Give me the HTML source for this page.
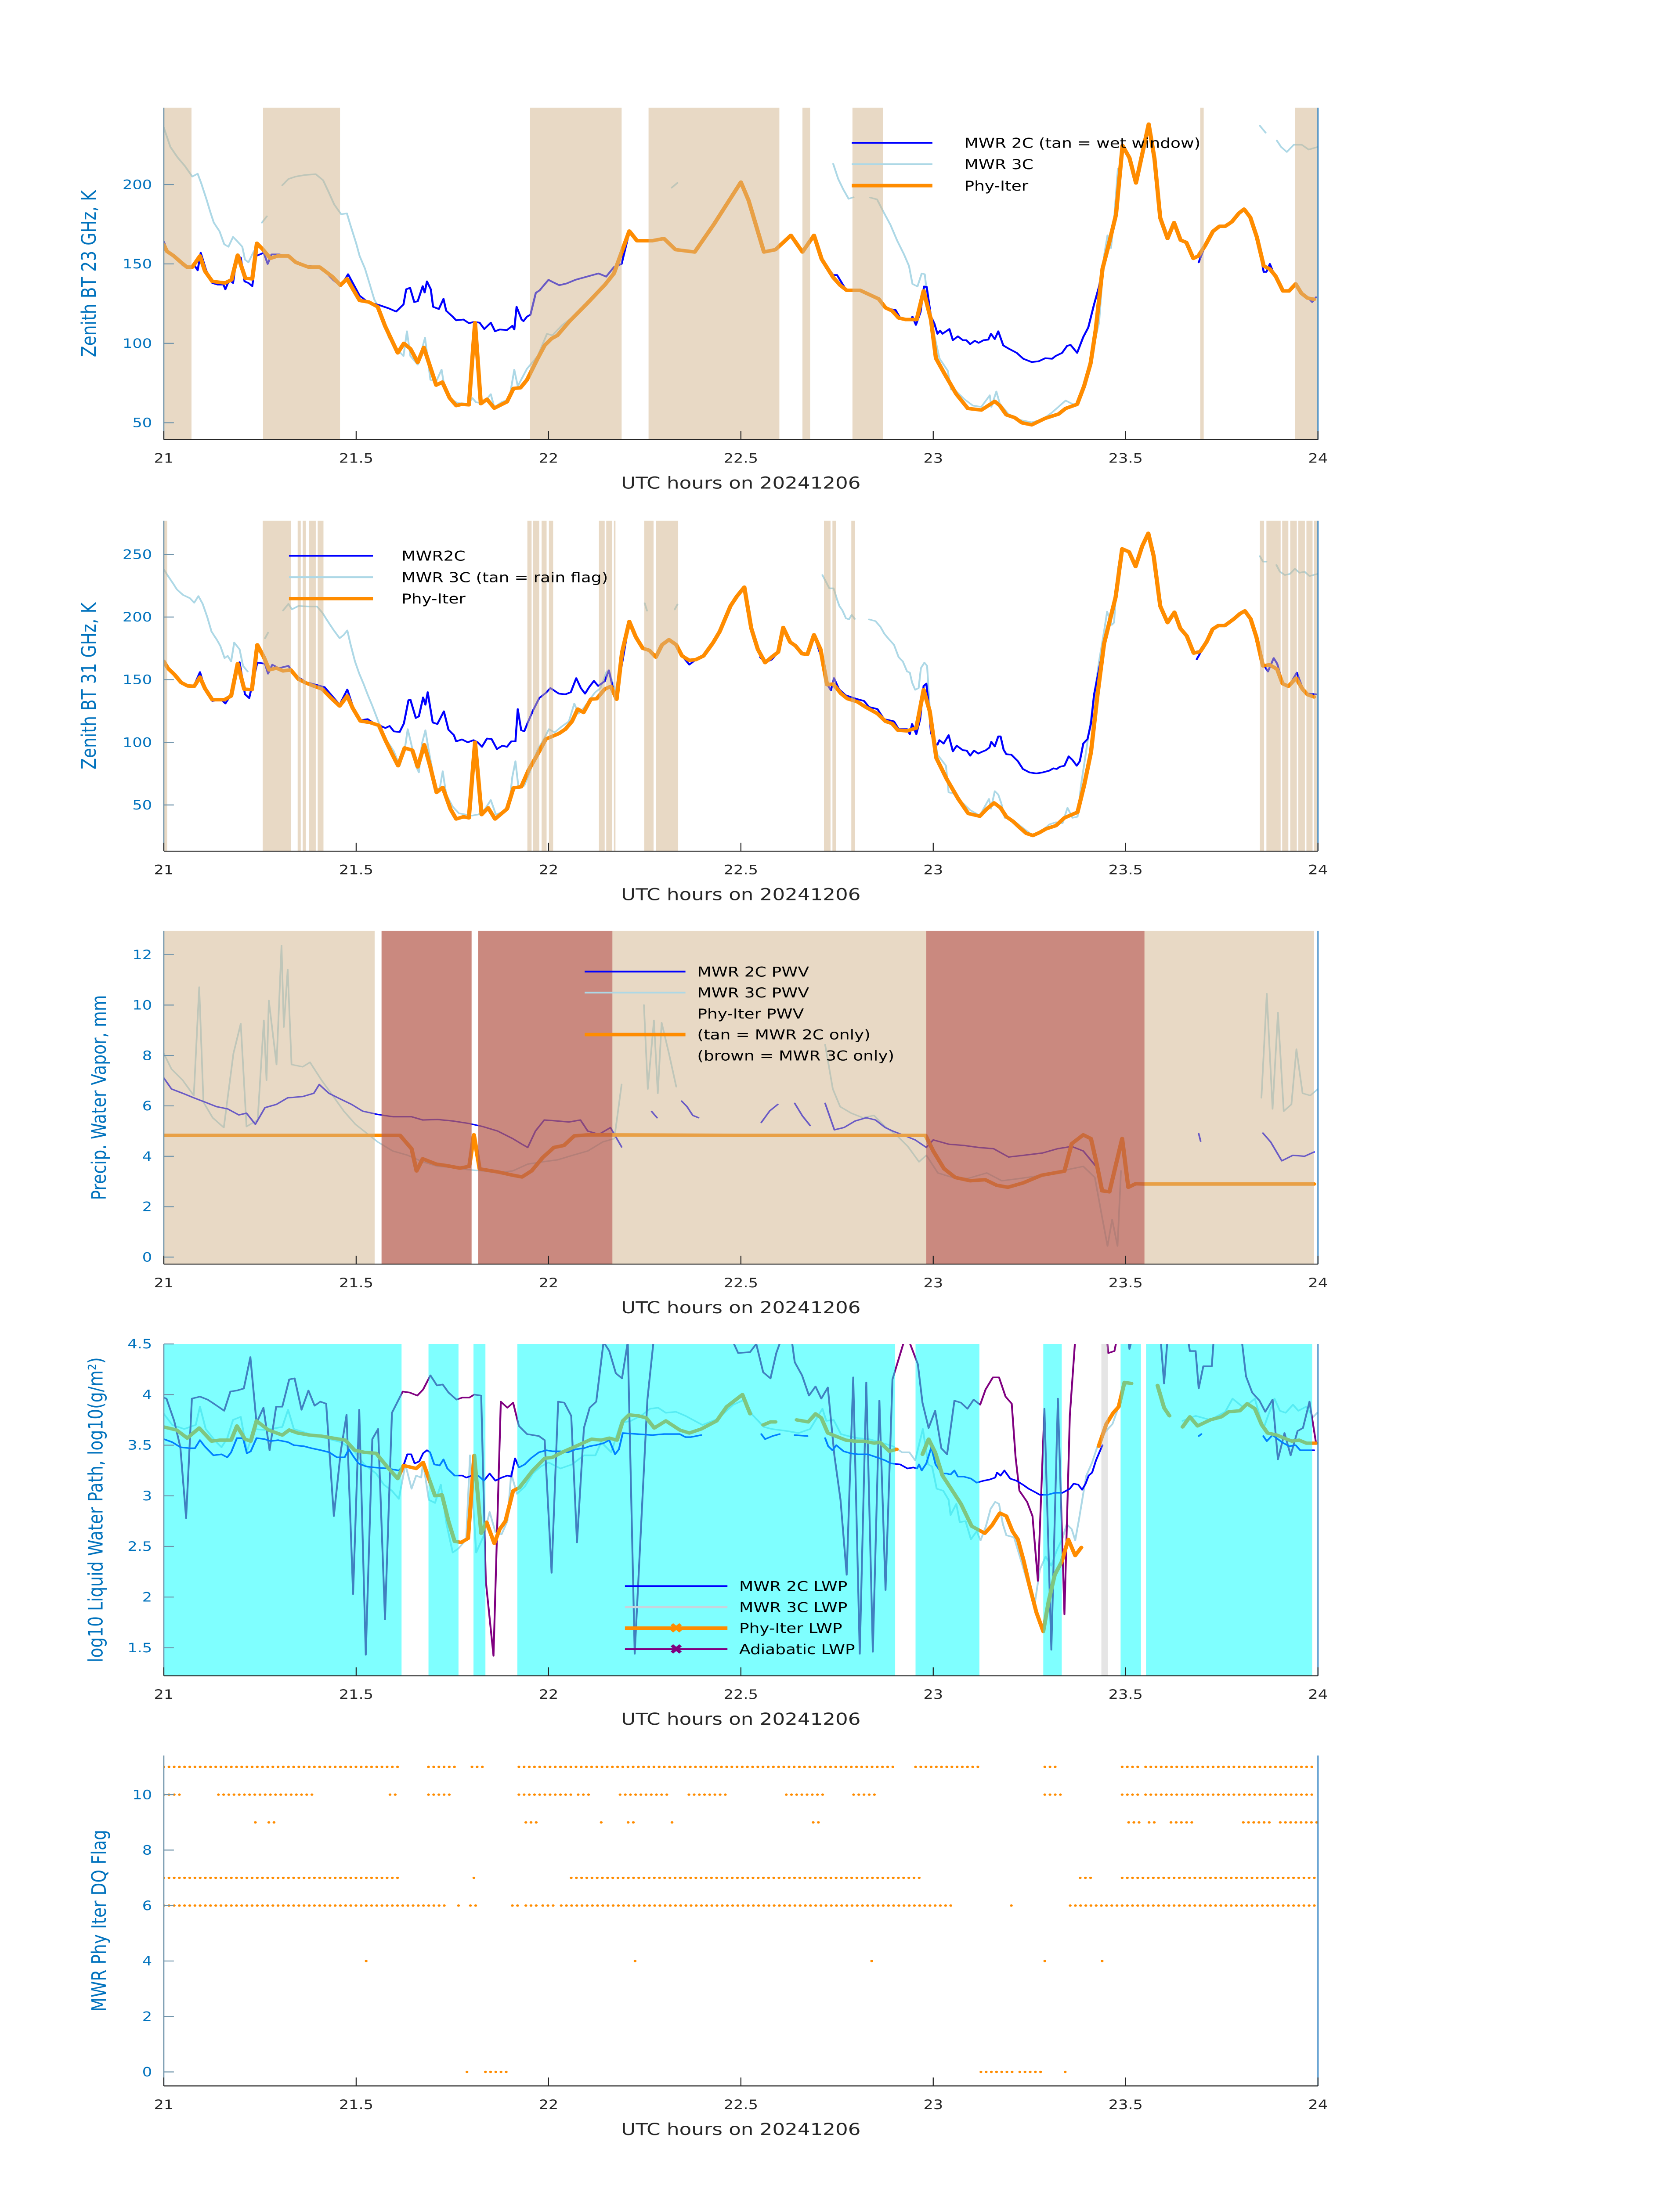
<!DOCTYPE html>
<html><head><meta charset="utf-8"><style>
html,body{margin:0;padding:0;background:#fff;width:100%;height:100%;overflow:hidden;}
svg{display:block;position:fixed;left:0;top:0;width:100vw;height:100vh;font-family:"DejaVu Sans","Liberation Sans",sans-serif;}
</style></head><body>
<svg id="fig" viewBox="0 0 1000 1568.63" preserveAspectRatio="none" xmlns="http://www.w3.org/2000/svg">
<rect x="0" y="0" width="1000" height="1568.63" fill="#fff"/>
</svg>
<script>
// ---------- Panel 1: 23 GHz ----------
const p1WetBands=[[21.0,21.072],[21.258,21.458],[21.952,22.19],[22.26,22.6],[22.66,22.68],[22.79,22.87],[23.694,23.703],[23.94,24.0]];
const p1Orange=[[21.0,162],[21.008,158],[21.026,155],[21.045,151],[21.06,148],[21.074,148],[21.094,155],[21.107,145.5],[21.126,139],[21.159,138],[21.176,140],[21.192,155.5],[21.212,141],[21.23,140.6],[21.242,163],[21.258,159],[21.277,153.5],[21.296,155],[21.324,155],[21.343,151],[21.376,148],[21.405,148],[21.438,142],[21.459,136.6],[21.476,140.6],[21.509,127],[21.533,126],[21.556,123],[21.575,111],[21.608,94],[21.624,100],[21.641,96.6],[21.66,88],[21.676,97.4],[21.708,73.7],[21.724,75.6],[21.743,65.6],[21.76,60.8],[21.774,61.6],[21.793,61.3],[21.809,113],[21.824,62],[21.84,64.8],[21.859,59.2],[21.892,63.2],[21.909,71.6],[21.927,72],[21.944,77],[21.972,90.6],[21.99,98.7],[22.008,103],[22.023,105],[22.055,114],[22.1,125],[22.147,137],[22.17,144],[22.21,170.7],[22.23,164.6],[22.27,164.6],[22.3,166],[22.33,159],[22.38,157.5],[22.43,175],[22.5,201.5],[22.52,190],[22.56,157.5],[22.59,159],[22.63,168],[22.66,157.5],[22.69,168],[22.71,153],[22.74,141.5],[22.758,136.6],[22.775,133.4],[22.81,133.4],[22.858,128],[22.876,122.4],[22.893,120.5],[22.91,116],[22.928,115],[22.957,115],[22.975,133],[22.994,115],[23.007,90.6],[23.029,81],[23.06,68],[23.09,59],[23.125,58],[23.16,63.5],[23.173,60.8],[23.19,55],[23.212,53.2],[23.23,50],[23.256,48.7],[23.29,52.7],[23.326,55.5],[23.344,59],[23.374,61.6],[23.392,73],[23.409,87.4],[23.422,108],[23.44,147],[23.457,163],[23.475,181],[23.492,224.5],[23.51,216.8],[23.527,201],[23.56,238],[23.575,216.5],[23.59,179],[23.609,166],[23.626,176],[23.643,165],[23.658,163.5],[23.676,153.5],[23.689,155],[23.707,161.6],[23.727,170.5],[23.744,173.7],[23.759,173.7],[23.776,176.5],[23.794,181.8],[23.808,184.5],[23.824,179.4],[23.841,167],[23.859,148.7],[23.875,146.8],[23.89,142.3],[23.909,133],[23.925,133],[23.942,137.4],[23.957,131.5],[23.973,128.5],[23.99,127.7]];
const p1Blue=[[21,164],[21.01,158],[21.03,154],[21.05,149],[21.07,148],[21.08,149],[21.088,146],[21.096,157],[21.11,146],[21.126,138],[21.14,137],[21.155,137],[21.16,134],[21.17,140],[21.18,138],[21.19,155],[21.2,154],[21.21,139],[21.22,138],[21.23,136],[21.24,155],[21.26,157],[21.27,150],[21.28,156],[21.3,156],[21.32,155],[21.34,152],[21.37,149],[21.4,148],[21.42,145],[21.44,140],[21.46,136],[21.479,143.5],[21.509,130],[21.53,126],[21.561,124],[21.585,122],[21.604,120],[21.623,124.5],[21.63,134],[21.64,135],[21.651,126],[21.66,126.5],[21.673,136],[21.678,132],[21.684,139],[21.694,134],[21.7,123],[21.715,121.6],[21.727,128],[21.734,120.5],[21.75,117],[21.76,114.5],[21.779,115],[21.793,112.7],[21.807,113.5],[21.821,113],[21.833,109],[21.85,113],[21.861,107.6],[21.873,108.7],[21.892,108.4],[21.906,111],[21.911,108.7],[21.917,123],[21.93,115],[21.935,114],[21.944,116.8],[21.953,118],[21.967,131.8],[21.977,133.4],[22.0,140],[22.01,138.7],[22.028,136.6],[22.047,137.7],[22.07,140],[22.1,142],[22.13,144],[22.15,142],[22.17,148],[22.19,150],[22.21,170],[22.23,164.6],[22.27,164.6],[22.3,166],[22.33,159],[22.38,157.5],[22.43,175],[22.5,201.5],[22.52,190],[22.56,157.5],[22.59,159],[22.63,168],[22.66,157.5],[22.69,168],[22.71,153],[22.74,143],[22.75,143],[22.775,133],[22.81,133],[22.858,128],[22.876,122],[22.902,121],[22.915,115.6],[22.942,114.8],[22.946,116.8],[22.955,111.6],[22.967,119.7],[22.976,135.8],[22.983,135.5],[22.994,117],[23.003,112.4],[23.011,106],[23.018,108],[23.024,106],[23.042,109],[23.051,102],[23.064,104.4],[23.077,102],[23.086,102],[23.096,99.5],[23.108,101.6],[23.118,100.3],[23.131,102],[23.143,102.3],[23.15,106],[23.16,102.7],[23.169,107.6],[23.182,98.7],[23.195,96.8],[23.217,94],[23.234,90.3],[23.256,88.2],[23.274,88.7],[23.291,90.6],[23.309,90.3],[23.318,92],[23.335,94],[23.348,98.4],[23.357,99],[23.374,94],[23.39,104],[23.403,110],[23.418,124.5],[23.431,135.8],[23.44,147],null,[23.69,151],[23.707,161.6],null,[23.841,167],[23.859,145],[23.866,145],[23.875,150],[23.89,141],[23.909,133],[23.925,133],[23.942,138],[23.957,131],[23.973,129],[23.985,126],[23.995,129]];
const p1Light=[[21,235.8],[21.017,223.7],[21.036,217],[21.055,211.6],[21.074,205],[21.088,206.8],[21.097,201],[21.111,190.6],[21.121,182.6],[21.13,176],[21.145,170.5],[21.157,162.4],[21.168,160.8],[21.18,167],[21.192,164],[21.204,160.8],[21.211,152.7],[21.22,151],[21.235,158.4],null,[21.255,176],[21.268,180],null,[21.308,199.5],[21.324,203.5],[21.343,205],[21.367,206],[21.395,206.5],[21.414,202.7],[21.428,195.5],[21.443,187.4],[21.461,181.3],[21.476,181.8],[21.485,174.5],[21.5,163],[21.509,155],[21.523,147],[21.537,135.8],[21.547,127.7],[21.556,123.7],[21.575,111],[21.585,103.5],[21.604,97],[21.623,92],[21.632,107.6],[21.641,92],[21.66,86.6],[21.679,103.5],[21.693,77],[21.708,76],[21.722,83.4],[21.731,70],[21.745,65],[21.764,62.4],[21.793,62],[21.802,65.6],[21.811,63],[21.83,62],[21.85,68],[21.859,59.7],[21.878,63],[21.898,64.8],[21.911,83.4],[21.92,73],[21.944,84],[21.972,92],[21.996,106],[22.01,105],[22.036,111.6],[22.06,116],[22.1,126],[22.147,137],[22.17,144],[22.2,160],null,[22.32,198],[22.335,201],null,[22.74,213],[22.753,203.5],[22.766,197],[22.78,191],[22.793,192],null,[22.836,191.8],[22.854,190.6],[22.871,182.6],[22.889,174.5],[22.906,164.8],[22.924,156],[22.937,148.7],[22.946,137.4],[22.959,135.8],[22.97,144],[22.978,143.5],[22.99,118],[23.003,105],[23.016,90.6],[23.038,82.6],[23.046,71],[23.06,69.7],[23.081,64.8],[23.103,60.8],[23.125,60],[23.147,67.3],[23.151,60],[23.164,69.7],[23.173,62],[23.195,55.6],[23.221,52],[23.256,50.3],[23.283,52],[23.309,56.5],[23.344,64],[23.357,62.4],[23.374,60.8],[23.392,74.5],[23.409,90.6],[23.431,113],[23.444,155],[23.453,168],[23.462,160],[23.471,181],[23.48,210],null,[23.849,237],[23.864,232.6],null,[23.893,227.7],[23.904,223.7],[23.919,220.5],[23.937,225],[23.958,225],[23.976,222],[24.0,223.7]];

// ---------- Panel 2: 31 GHz ----------
const p2RainBands=[[21.0,21.009],[21.257,21.331],[21.348,21.356],[21.361,21.369],[21.378,21.395],[21.4,21.415],[21.945,21.956],[21.96,21.976],[21.982,21.995],[22.001,22.012],[22.131,22.146],[22.15,22.165],[22.17,22.174],[22.249,22.273],[22.279,22.337],[22.716,22.733],[22.738,22.747],[22.787,22.796],[23.849,23.86],[23.866,23.903],[23.907,23.923],[23.928,23.945],[23.949,23.966],[23.97,23.986],[23.99,24.0]];
const p2Orange=[[21,164.5],[21.011,159],[21.028,154],[21.045,147.7],[21.062,145],[21.079,144.7],[21.094,152],[21.107,143],[21.126,134],[21.158,134],[21.175,137],[21.192,162.7],[21.209,142.4],[21.229,142],[21.243,177.8],[21.26,168],[21.274,157.8],[21.293,159.2],[21.31,157],[21.33,157.8],[21.35,150.4],[21.367,147.7],[21.389,145],[21.412,142.4],[21.435,135.3],[21.457,129],[21.477,137],[21.491,127.3],[21.511,117],[21.536,115.8],[21.559,113.5],[21.576,101.7],[21.593,91],[21.609,81.3],[21.626,95.5],[21.646,93.7],[21.66,80.4],[21.677,98],[21.692,81.3],[21.709,60],[21.725,64],[21.745,46.8],[21.76,38.8],[21.779,40.6],[21.793,39.7],[21.809,100],[21.826,42.3],[21.843,47.7],[21.861,38.8],[21.892,46.8],[21.909,63.6],[21.929,64.5],[21.948,77.7],[21.971,90.1],[21.993,102.6],[22.027,107],[22.044,110.5],[22.061,116.7],[22.076,126.5],[22.091,123.8],[22.11,134.4],[22.125,134.8],[22.146,142.4],[22.162,144.7],[22.177,134.4],[22.191,171.6],[22.21,196.4],[22.227,184],[22.245,175],[22.262,173.4],[22.279,168],[22.295,177.8],[22.313,181.9],[22.332,177.8],[22.347,169],[22.366,165.4],[22.383,166],[22.403,169],[22.428,179.6],[22.445,188.4],[22.473,208.8],[22.49,216.7],[22.509,223.8],[22.527,191],[22.544,174.2],[22.563,163.6],[22.58,168],[22.597,172],[22.61,191.6],[22.628,180],[22.642,177],[22.659,170.7],[22.673,170.2],[22.69,185.8],[22.707,174.2],[22.724,146],[22.74,146.5],[22.76,139],[22.777,134.8],[22.803,132.3],[22.824,128.2],[22.855,122.9],[22.876,116.7],[22.893,115],[22.908,109.7],[22.932,109.1],[22.956,111.4],[22.975,141.9],[22.991,124.7],[23.008,87.5],[23.035,70.7],[23.065,54.8],[23.091,43.2],[23.121,41],[23.139,46.8],[23.158,51.6],[23.175,47.7],[23.19,40.6],[23.207,37],[23.225,31.8],[23.242,27.3],[23.259,25.6],[23.276,27.9],[23.293,30.9],[23.319,33.5],[23.341,39.7],[23.375,44.2],[23.392,65.4],[23.41,92],[23.427,138],[23.444,178.7],[23.474,215.8],[23.491,254.4],[23.509,252],[23.526,240.3],[23.543,256.5],[23.559,266.8],[23.573,248.6],[23.59,208.8],[23.609,195.5],[23.627,203.8],[23.642,191],[23.659,184.9],[23.677,171.2],[23.694,172.4],[23.711,180.4],[23.726,190.2],[23.741,193.2],[23.758,193.2],[23.78,198.1],[23.797,202.6],[23.81,204.9],[23.825,198.5],[23.84,184],[23.857,161],[23.874,161.9],[23.894,158.3],[23.908,146.8],[23.923,144.7],[23.943,151.2],[23.96,142.4],[23.973,138],[23.99,136.2]];
const p2Blue=[[21,165.4],[21.011,160],[21.028,155],[21.045,148],[21.062,145],[21.079,145.5],[21.094,156],[21.107,143],[21.126,133],[21.15,134],[21.16,131],[21.175,138],[21.197,163.9],[21.211,138.3],[21.222,135.3],[21.243,163.6],[21.263,162.7],[21.271,154.8],[21.282,161.9],[21.299,159.2],[21.324,161],[21.339,153.9],[21.37,148],[21.395,146],[21.418,144],[21.457,130],[21.477,142.1],[21.491,129],[21.511,117.6],[21.53,118.5],[21.547,115],[21.564,113],[21.576,111.4],[21.587,113],[21.598,108.7],[21.613,108.2],[21.624,115],[21.636,133.6],[21.641,134],[21.655,119.4],[21.663,120.7],[21.674,135.8],[21.68,130],[21.686,140],[21.699,115.8],[21.711,114.6],[21.728,124.7],[21.74,110],[21.754,105.7],[21.76,100.7],[21.775,102.3],[21.79,100],[21.805,101.7],[21.816,100],[21.827,96.4],[21.84,103],[21.852,102.6],[21.866,94.6],[21.88,97.3],[21.892,96.4],[21.903,100.7],[21.914,100.7],[21.92,126.5],[21.929,109.6],[21.937,108.8],[21.945,115],[21.96,125.6],[21.976,135.3],[21.993,139.4],[22.005,143.3],[22.027,138.8],[22.044,138.3],[22.058,140],[22.072,151.2],[22.084,143.3],[22.095,138.8],[22.106,144.2],[22.118,149],[22.129,145],[22.146,148.7],[22.157,157.4],[22.162,150.4],[22.174,134.4],[22.191,162.7],[22.21,196.4],[22.227,184],[22.245,175],[22.262,173.4],[22.279,168],[22.295,177.8],[22.313,181.9],[22.332,177.8],[22.347,169],[22.366,162],[22.383,166],[22.403,169],[22.428,179.6],null,[22.55,168],[22.563,163.6],[22.58,166],[22.597,172],[22.61,191.6],[22.628,180],[22.642,177],[22.659,170.7],[22.673,170.2],[22.69,185.8],[22.71,167],[22.725,145.9],[22.734,141.5],[22.742,151.2],[22.755,142.4],[22.772,137.6],[22.803,134.4],[22.82,133],[22.833,128.2],[22.855,126.5],[22.872,118.5],[22.898,116.7],[22.91,110.5],[22.932,110.5],[22.939,106.5],[22.945,114.6],[22.956,106.5],[22.966,118.5],[22.975,145],[22.982,146.8],[22.988,130.9],[22.994,107.9],[23.003,99],[23.011,98.1],[23.016,101.7],[23.027,99],[23.04,105.7],[23.051,92.8],[23.061,97.3],[23.077,93.7],[23.087,93.4],[23.096,89.3],[23.106,93.4],[23.117,91],[23.126,92.3],[23.137,93.7],[23.146,95.8],[23.151,100.4],[23.16,96.7],[23.169,104.7],[23.175,104.7],[23.183,94],[23.19,90.5],[23.203,90.1],[23.22,84.9],[23.233,78.7],[23.25,76],[23.268,75.1],[23.285,76],[23.302,77.4],[23.312,79.2],[23.321,78.7],[23.329,80.4],[23.341,81.3],[23.352,88.8],[23.362,85.8],[23.373,81.3],[23.381,84.9],[23.39,99],[23.401,102.6],[23.41,115],[23.418,138],[23.427,152.1],[23.435,164.5],null,[23.685,166.3],[23.698,173.4],null,[23.857,162.7],[23.87,156.5],[23.885,167.2],[23.894,162.7],[23.908,147.7],[23.925,145],[23.945,155.6],[23.96,143.3],[23.973,138.9],[23.995,138.3]];
const p2Light=[[21,238],[21.011,232.7],[21.023,227.3],[21.034,222],[21.05,217.6],[21.068,215],[21.079,211.4],[21.09,216.7],[21.101,210.5],[21.113,199.9],[21.124,188.4],[21.139,181.3],[21.147,176.9],[21.158,167.2],[21.166,169],[21.175,164.5],[21.183,179.6],[21.197,174.2],[21.206,161],[21.218,156.5],null,[21.263,183],[21.271,187.5],null,[21.31,205.2],[21.324,210.5],[21.333,206.1],[21.35,208.8],[21.378,208.4],[21.398,208.4],[21.412,203.5],[21.423,198.1],[21.44,190.2],[21.457,183.1],[21.468,185.8],[21.477,189.3],[21.485,178.7],[21.497,164.5],[21.508,154.8],[21.519,146.8],[21.53,138],[21.542,129.1],[21.553,120.3],[21.564,111.4],[21.581,100.8],[21.598,92.8],[21.613,81.3],[21.626,93.7],[21.634,110.5],[21.643,99],[21.655,81.3],[21.663,76],[21.671,99],[21.68,109.6],[21.688,94.6],[21.696,81.3],[21.705,63.6],[21.717,62.7],[21.725,76.9],[21.734,58.3],[21.751,48.6],[21.767,43.3],[21.784,42.4],[21.801,41.5],[21.818,42.4],[21.835,46.8],[21.85,53.9],[21.863,42.4],[21.88,44.2],[21.897,47.7],[21.906,72.5],[21.914,84.9],[21.922,63.6],[21.937,65.4],[21.951,76],[21.971,93.7],[21.988,102.6],[22.001,110.5],[22.016,107.9],[22.033,112.3],[22.053,116.7],[22.067,130.9],[22.078,122.9],[22.089,126.5],[22.1,130.9],[22.112,136.2],[22.121,139.8],[22.135,143.3],[22.151,156.5],[22.157,157.4],[22.174,139.8],[22.191,170],null,[22.25,211],[22.256,205],null,[22.328,206],[22.335,210],null,[22.712,233.5],[22.721,228.2],[22.73,222.9],[22.741,222.9],[22.75,214],[22.756,208.8],[22.764,205.2],[22.773,199],[22.781,198.1],[22.788,201.7],[22.796,198.5],null,[22.833,198.1],[22.85,196.7],[22.863,192],[22.873,186.6],[22.885,182.2],[22.898,177.8],[22.91,168],[22.921,164.5],[22.932,156.5],[22.939,155.7],[22.945,147.7],[22.953,141.9],[22.962,143.3],[22.968,159.2],[22.977,163.6],[22.984,161],[22.992,122],[23.001,107.9],[23.011,90.1],[23.033,81.3],[23.04,60],[23.052,59.2],[23.075,52],[23.096,45.9],[23.121,41.5],[23.145,54.8],[23.15,47],[23.16,61],[23.169,58.3],[23.177,51.2],[23.186,39.7],[23.207,37.9],[23.233,31.7],[23.259,25.6],[23.285,30],[23.302,34.5],[23.319,36.2],[23.336,35.4],[23.349,47.7],[23.362,39.7],[23.375,40.6],[23.384,65.4],[23.397,92],[23.414,127.3],[23.431,164.5],[23.444,188.4],[23.452,204.3],[23.464,193.7],[23.47,195.5],[23.476,224.7],[23.481,240.6],null,[23.849,248.6],[23.857,244.2],[23.866,244.2],null,[23.892,241.5],[23.901,236.2],[23.914,233.5],[23.927,234.4],[23.94,238.5],[23.952,235.3],[23.965,236.2],[23.978,232.7],[23.999,234.4]];

// ---------- Panel 3: PWV ----------
const p3TanBands=[[21.0,21.548],[21.566,21.8],[21.817,23.99]];
const p3BrownBands=[[21.566,21.8],[21.817,22.166],[22.982,23.549]];
const p3Orange=[[21.0,4.83],[21.3,4.83],[21.614,4.83],[21.644,4.3],[21.657,3.42],[21.673,3.9],[21.708,3.69],[21.731,3.64],[21.77,3.53],[21.794,3.6],[21.806,4.85],[21.821,3.5],[21.868,3.38],[21.907,3.25],[21.931,3.18],[21.956,3.42],[21.985,3.95],[22.014,4.35],[22.04,4.43],[22.067,4.81],[22.102,4.85],[22.5,4.83],[22.98,4.83],[23.0,4.21],[23.028,3.51],[23.057,3.16],[23.096,3.03],[23.135,3.07],[23.165,2.85],[23.194,2.77],[23.233,2.94],[23.282,3.25],[23.341,3.41],[23.36,4.5],[23.39,4.85],[23.41,4.7],[23.425,3.69],[23.439,2.63],[23.458,2.59],[23.491,4.7],[23.507,2.77],[23.526,2.91],[23.546,2.9],[23.8,2.9],[23.99,2.9]];
const p3Blue=[[21,7.11],[21.02,6.67],[21.049,6.5],[21.078,6.32],[21.107,6.15],[21.137,5.97],[21.166,5.88],[21.195,5.64],[21.215,5.71],[21.238,5.27],[21.263,5.93],[21.293,6.06],[21.322,6.32],[21.361,6.37],[21.39,6.5],[21.404,6.85],[21.429,6.5],[21.458,6.28],[21.488,6.06],[21.517,5.79],[21.556,5.66],[21.595,5.57],[21.644,5.57],[21.673,5.44],[21.712,5.46],[21.751,5.4],[21.79,5.31],[21.829,5.18],[21.868,5.0],[21.907,4.7],[21.931,4.48],[21.946,4.35],[21.966,5.0],[21.989,5.44],[22.024,5.4],[22.053,5.36],[22.083,5.44],[22.102,5.0],[22.131,4.87],[22.161,5.14],[22.19,4.37],null,[22.268,5.78],[22.282,5.53],null,[22.346,6.19],[22.36,5.97],[22.375,5.62],[22.39,5.53],null,[22.553,5.34],[22.575,5.8],[22.596,6.06],null,[22.64,6.1],[22.66,5.6],[22.68,5.22],null,[22.719,6.1],[22.743,5.05],[22.768,5.14],[22.797,5.4],[22.826,5.53],[22.85,5.44],[22.875,5.14],[22.895,5.0],[22.924,4.83],[22.953,4.65],[22.982,4.35],[23.0,4.65],[23.04,4.48],[23.08,4.43],[23.118,4.35],[23.157,4.3],[23.196,3.97],[23.235,4.04],[23.284,4.13],[23.323,4.3],[23.36,4.39],[23.39,4.21],[23.425,3.56],null,[23.69,4.9],[23.695,4.6],null,[23.857,4.92],[23.877,4.57],[23.906,3.82],[23.935,4.04],[23.965,4.0],[23.99,4.17]];
const p3Light=[[21,8.08],[21.02,7.46],[21.049,7.02],[21.078,6.41],[21.092,10.71],[21.103,6.15],[21.127,5.53],[21.156,5.14],[21.181,8.08],[21.2,9.26],[21.215,5.18],[21.244,5.44],[21.26,9.39],[21.267,7.02],[21.273,10.18],[21.293,7.64],[21.306,12.36],[21.312,9.13],[21.322,11.41],[21.332,7.64],[21.361,7.55],[21.38,7.73],[21.41,7.02],[21.439,6.41],[21.468,5.79],[21.498,5.27],[21.527,4.92],[21.556,4.57],[21.595,4.21],[21.634,4.04],[21.673,3.78],[21.712,3.6],[21.751,3.56],[21.79,3.47],[21.829,3.42],[21.868,3.34],[21.907,3.42],[21.946,3.69],[21.985,3.78],[22.024,3.86],[22.063,4.04],[22.102,4.21],[22.141,4.57],[22.171,4.7],[22.19,6.85],null,[22.248,10.0],[22.258,6.67],[22.274,9.39],[22.284,6.5],[22.294,9.3],[22.313,8.08],[22.332,6.76],null,[22.719,8.43],[22.739,6.67],[22.758,5.97],[22.787,5.71],[22.817,5.53],[22.846,5.62],[22.875,5.18],[22.905,4.83],[22.934,4.39],[22.963,3.78],[22.982,4.04],[23.012,3.34],[23.05,3.16],[23.09,3.12],[23.139,3.34],[23.178,3.03],[23.226,3.12],[23.284,3.25],[23.333,3.42],[23.39,3.6],[23.42,3.16],[23.439,1.58],[23.453,0.44],[23.465,1.49],[23.479,0.44],[23.488,3.42],null,[23.853,6.32],[23.867,10.45],[23.882,5.88],[23.896,9.7],[23.911,5.79],[23.931,6.06],[23.944,8.25],[23.96,6.5],[23.98,6.41],[24.0,6.67]];

// ---------- Panel 4: log10 LWP ----------
const p4CloudBands=[[21.0,21.618],[21.688,21.766],[21.805,21.836],[21.919,22.901],[22.954,23.12],[23.286,23.334],[23.487,23.54],[23.553,23.985]];
const p4GreyBands=[[23.437,23.454]];
const p4Orange=[[21,3.68],[21.033,3.65],[21.061,3.57],[21.092,3.67],[21.124,3.54],[21.145,3.55],[21.175,3.55],[21.19,3.69],[21.211,3.56],[21.226,3.54],[21.241,3.74],[21.272,3.65],[21.308,3.6],[21.326,3.65],[21.348,3.62],[21.379,3.6],[21.409,3.59],[21.44,3.57],[21.472,3.55],[21.496,3.45],[21.521,3.43],[21.552,3.42],[21.582,3.28],[21.608,3.17],[21.623,3.3],[21.656,3.27],[21.674,3.33],[21.705,3.0],[21.723,3.01],[21.74,2.75],[21.756,2.55],[21.773,2.54],[21.791,2.58],[21.807,3.4],[21.825,2.63],[21.839,2.74],[21.859,2.53],[21.873,2.67],[21.888,2.75],[21.908,3.05],[21.924,3.08],[21.959,3.25],[21.99,3.37],[22.01,3.38],[22.041,3.44],[22.071,3.49],[22.112,3.56],[22.137,3.55],[22.158,3.57],[22.178,3.55],[22.193,3.74],[22.209,3.8],[22.234,3.79],[22.254,3.77],[22.275,3.67],[22.305,3.74],[22.341,3.65],[22.366,3.62],[22.397,3.66],[22.437,3.74],[22.463,3.88],[22.504,4.0],[22.524,3.81],null,[22.558,3.7],[22.577,3.73],[22.59,3.73],null,[22.645,3.75],[22.675,3.73],[22.694,3.81],[22.709,3.77],[22.726,3.62],[22.746,3.59],[22.773,3.55],[22.795,3.54],[22.82,3.54],[22.847,3.52],[22.861,3.53],[22.886,3.44],[22.905,3.46],null,[22.972,3.41],[22.988,3.56],[23.005,3.43],[23.024,3.2],[23.043,3.09],[23.072,2.92],[23.1,2.7],[23.134,2.63],[23.153,2.71],[23.173,2.83],[23.19,2.8],[23.206,2.65],[23.22,2.57],[23.235,2.36],[23.249,2.13],[23.268,1.85],[23.286,1.66],[23.3,1.96],[23.316,2.22],[23.334,2.35],[23.351,2.57],[23.369,2.41],[23.385,2.49],null,[23.43,3.49],[23.45,3.71],[23.468,3.82],[23.482,3.88],[23.497,4.12],[23.515,4.11],null,[23.583,4.09],[23.6,3.87],[23.614,3.79],null,[23.648,3.68],[23.667,3.78],[23.687,3.69],[23.72,3.75],[23.749,3.78],[23.768,3.83],[23.797,3.84],[23.816,3.91],[23.836,3.86],[23.854,3.7],[23.869,3.62],[23.893,3.6],[23.912,3.57],[23.932,3.54],[23.951,3.55],[23.97,3.52],[23.995,3.52]];
const p4Blue=[[21,3.56],[21.022,3.53],[21.043,3.48],[21.068,3.47],[21.081,3.47],[21.094,3.55],[21.106,3.49],[21.129,3.4],[21.15,3.41],[21.165,3.38],[21.175,3.43],[21.19,3.57],[21.206,3.57],[21.216,3.42],[21.226,3.44],[21.241,3.57],[21.262,3.56],[21.277,3.54],[21.297,3.55],[21.323,3.53],[21.338,3.5],[21.364,3.49],[21.384,3.47],[21.409,3.45],[21.43,3.43],[21.45,3.38],[21.47,3.38],[21.481,3.46],[21.491,3.4],[21.506,3.32],[21.526,3.29],[21.547,3.28],[21.582,3.27],[21.611,3.25],[21.623,3.3],[21.633,3.41],[21.643,3.41],[21.652,3.32],[21.664,3.34],[21.674,3.42],[21.684,3.45],[21.692,3.43],[21.703,3.31],[21.717,3.3],[21.727,3.36],[21.737,3.27],[21.756,3.2],[21.776,3.2],[21.786,3.18],[21.801,3.2],[21.817,3.2],[21.832,3.15],[21.847,3.22],[21.862,3.15],[21.878,3.18],[21.893,3.2],[21.903,3.19],[21.913,3.37],[21.923,3.28],[21.938,3.31],[21.954,3.37],[21.975,3.43],[21.995,3.45],[22.01,3.44],[22.031,3.44],[22.051,3.43],[22.071,3.46],[22.092,3.47],[22.107,3.49],[22.122,3.5],[22.143,3.52],[22.158,3.55],[22.173,3.41],[22.183,3.46],[22.193,3.62],[22.23,3.61],[22.27,3.6],[22.3,3.61],[22.341,3.61],[22.356,3.58],[22.37,3.58],[22.397,3.6],null,[22.553,3.61],[22.563,3.56],[22.582,3.59],[22.601,3.61],null,[22.64,3.6],[22.673,3.59],null,[22.719,3.57],[22.727,3.49],[22.738,3.45],[22.748,3.5],[22.767,3.44],[22.785,3.42],[22.804,3.41],[22.83,3.41],[22.861,3.37],[22.875,3.35],[22.89,3.32],[22.914,3.31],[22.933,3.27],[22.948,3.28],[22.958,3.27],[22.963,3.31],[22.97,3.25],[22.982,3.32],[22.995,3.48],[23.006,3.31],[23.023,3.22],[23.035,3.22],[23.045,3.21],[23.055,3.25],[23.064,3.19],[23.079,3.19],[23.098,3.17],[23.113,3.13],[23.132,3.15],[23.146,3.16],[23.161,3.18],[23.166,3.23],[23.175,3.2],[23.185,3.25],[23.2,3.17],[23.216,3.15],[23.233,3.11],[23.248,3.07],[23.263,3.04],[23.277,3.01],[23.297,3.01],[23.316,3.03],[23.336,3.03],[23.355,3.07],[23.365,3.12],[23.377,3.11],[23.387,3.06],[23.396,3.12],[23.404,3.2],[23.413,3.23],[23.423,3.35],[23.433,3.44],[23.44,3.5],null,[23.69,3.59],[23.697,3.61],null,[23.858,3.59],[23.867,3.54],[23.882,3.6],[23.906,3.53],[23.925,3.49],[23.942,3.5],[23.954,3.45],[23.973,3.45],[23.99,3.45]];
const p4Adiabatic=[[21,3.97],[21.007,3.96],[21.027,3.74],[21.043,3.48],[21.058,2.78],[21.073,3.96],[21.094,3.98],[21.114,3.95],[21.134,3.9],[21.157,3.84],[21.173,4.03],[21.19,4.04],[21.208,4.06],[21.225,4.37],[21.241,3.72],[21.259,3.87],[21.275,3.45],[21.292,3.88],[21.308,3.88],[21.326,4.15],[21.34,4.16],[21.358,3.85],[21.376,4.04],[21.392,3.89],[21.407,3.93],[21.422,3.91],[21.442,2.8],[21.46,3.44],[21.475,3.8],[21.492,2.03],[21.508,3.85],[21.525,1.43],[21.542,3.56],[21.557,3.66],[21.575,1.78],[21.593,3.82],[21.621,4.03],[21.639,4.02],[21.659,3.99],[21.674,4.05],[21.693,4.19],[21.71,4.09],[21.725,4.1],[21.74,4.02],[21.761,3.95],[21.776,3.97],[21.794,3.97],[21.807,4.0],[21.825,3.99],[21.837,2.16],[21.857,1.42],[21.876,3.93],[21.893,3.87],[21.908,3.92],[21.923,3.69],[21.944,3.61],[21.975,3.59],[21.99,3.55],[22.008,2.24],[22.025,3.93],[22.041,3.92],[22.059,3.79],[22.074,2.54],[22.092,3.67],[22.107,3.87],[22.124,3.93],[22.143,4.52],[22.158,4.43],[22.175,4.21],[22.191,4.16],[22.206,4.52],[22.224,1.44],[22.257,3.95],[22.275,4.6],[22.47,4.6],[22.493,4.41],[22.524,4.42],[22.54,4.5],[22.558,4.22],[22.577,4.16],[22.592,4.41],[22.61,4.6],[22.63,4.6],[22.64,4.32],[22.659,4.19],[22.677,3.99],[22.694,4.08],[22.709,3.96],[22.726,4.07],[22.743,3.4],[22.759,2.96],[22.775,2.22],[22.792,4.17],[22.809,1.44],[22.826,4.12],[22.843,1.46],[22.86,3.94],[22.876,2.07],[22.894,4.15],[22.93,4.6],[22.96,4.3],[22.972,3.92],[22.988,3.67],[23.005,3.84],[23.021,3.47],[23.036,3.41],[23.055,3.94],[23.072,3.92],[23.089,3.86],[23.105,3.95],[23.122,3.9],[23.136,4.05],[23.155,4.17],[23.171,4.17],[23.188,3.98],[23.204,3.91],[23.214,3.38],[23.224,3.05],[23.244,2.94],[23.258,2.8],[23.272,2.16],[23.289,3.86],[23.307,1.48],[23.324,3.96],[23.341,1.83],[23.355,3.79],[23.37,4.6],[23.45,4.6],[23.455,4.41],[23.471,4.43],[23.48,4.6],[23.505,4.6],[23.51,4.45],[23.52,4.6],[23.59,4.6],[23.6,4.11],[23.61,4.6],[23.66,4.6],[23.667,4.43],[23.682,4.43],[23.69,4.06],[23.702,4.28],[23.724,4.28],[23.73,4.6],[23.8,4.6],[23.813,4.18],[23.829,4.02],[23.848,3.94],[23.863,3.83],[23.882,3.95],[23.896,3.36],[23.913,3.62],[23.929,3.4],[23.947,3.64],[23.961,3.67],[23.978,3.93],[23.995,3.52]];
const p4Light=[[21,3.81],[21.022,3.7],[21.053,3.66],[21.083,3.7],[21.094,3.88],[21.109,3.66],[21.134,3.54],[21.15,3.48],[21.165,3.57],[21.18,3.75],[21.2,3.78],[21.216,3.44],[21.236,3.66],[21.262,3.65],[21.277,3.66],[21.308,3.68],[21.323,3.85],[21.338,3.66],[21.379,3.61],[21.42,3.57],[21.46,3.53],[21.491,3.46],[21.521,3.31],[21.552,3.22],[21.572,3.11],[21.593,3.05],[21.611,2.97],[21.628,3.31],[21.644,3.07],[21.656,3.2],[21.669,3.18],[21.674,3.33],[21.689,2.96],[21.705,2.93],[21.72,3.11],[21.735,2.72],[21.751,2.44],[21.766,2.48],[21.786,2.57],[21.796,3.4],[21.812,2.44],[21.832,2.61],[21.847,2.84],[21.862,2.64],[21.878,2.62],[21.893,2.75],[21.903,3.22],[21.918,3.02],[21.938,3.09],[21.959,3.22],[21.98,3.29],[22.0,3.33],[22.031,3.27],[22.061,3.31],[22.092,3.4],[22.122,3.4],[22.137,3.53],[22.163,3.43],[22.188,3.72],[22.214,3.74],[22.244,3.8],[22.264,3.86],[22.285,3.87],[22.305,3.82],[22.331,3.83],[22.356,3.79],[22.4,3.7],[22.44,3.76],[22.48,3.9],[22.51,3.95],[22.53,3.8],[22.56,3.68],[22.58,3.66],[22.62,3.64],[22.65,3.62],[22.68,3.66],[22.712,3.86],[22.722,3.74],[22.741,3.75],[22.76,3.61],[22.779,3.59],[22.804,3.57],[22.833,3.56],[22.861,3.53],[22.895,3.49],[22.919,3.43],[22.938,3.43],[22.953,3.35],[22.973,3.66],[22.987,3.31],[22.997,3.29],[23.009,3.07],[23.026,3.05],[23.04,2.96],[23.045,2.81],[23.06,2.92],[23.069,2.74],[23.084,2.75],[23.098,2.57],[23.113,2.65],[23.123,2.56],[23.137,2.7],[23.149,2.87],[23.161,2.94],[23.171,2.92],[23.181,2.72],[23.19,2.61],[23.21,2.59],[23.229,2.35],[23.248,2.11],[23.263,1.91],[23.277,2.27],[23.292,2.4],[23.307,2.31],[23.321,2.46],[23.336,2.58],[23.347,2.72],[23.36,2.67],[23.369,2.56],[23.379,2.77],[23.389,3.0],[23.398,3.2],[23.413,3.33],[23.427,3.49],[23.447,3.63],[23.466,3.71],[23.481,3.87],null,[23.648,3.74],[23.682,3.79],[23.72,3.75],[23.759,3.83],[23.778,3.96],[23.807,3.87],[23.836,3.96],[23.858,3.66],[23.872,3.81],[23.887,3.96],[23.901,3.84],[23.916,3.82],[23.935,3.9],[23.949,3.84],[23.969,3.88],[23.988,3.78],[23.998,3.82]];

// ---------- Panel 5: DQ flags (time ranges per flag level) ----------
const p5Levels=[11,10,9,7,6,4,0];
const p5Flag11=[[21.0,21.613],[21.688,21.762],[21.801,21.836],[21.923,22.897],[22.954,23.116],[23.29,23.33],[23.491,23.539],[23.552,23.984]];
const p5Flag10=[[21.0,21.05],[21.142,21.395],[21.588,21.613],[21.688,21.753],[21.923,22.059],[22.077,22.112],[22.186,22.308],[22.365,22.461],[22.618,22.723],[22.793,22.854],[23.29,23.334],[23.491,23.535],[23.552,23.997]];
const p5Flag9=[[21.238,21.25],[21.273,21.295],[21.941,21.98],[22.137,22.146],[22.207,22.233],[22.321,22.33],[22.688,22.714],[23.508,23.535],[23.561,23.587],[23.618,23.683],[23.806,23.876],[23.902,23.997]];
const p5Flag7=[[21.0,21.613],[21.806,21.815],[22.059,22.976],[23.382,23.413],[23.491,23.997]];
const p5Flag6=[[21.0,21.736],[21.766,21.775],[21.797,21.818],[21.906,21.92],[21.941,21.972],[21.985,22.016],[22.033,23.054],[23.203,23.212],[23.356,23.997]];
const p5Flag4=[[21.526,21.526],[22.225,22.225],[22.84,22.84],[23.29,23.29],[23.439,23.439]];
const p5Flag0=[[21.788,21.797],[21.836,21.897],[23.124,23.207],[23.225,23.282],[23.343,23.343]];

const xTicks=[21,21.5,22,22.5,23,23.5,24];
const xTickLabels=["21","21.5","22","22.5","23","23.5","24"];
const p1YTicks=[50,100,150,200];
const p2YTicks=[50,100,150,200,250];
const p3YTicks=[0,2,4,6,8,10,12];
const p4YTicks=[1.5,2,2.5,3,3.5,4,4.5];
const p4YTickLabels=["1.5","2","2.5","3","3.5","4","4.5"];
const p5YTicks=[0,2,4,6,8,10];

const NS="http://www.w3.org/2000/svg";
const svg=document.getElementById('fig');
const X0=97.5,X1=784.5,T0=21,T1=24;
function xs(t){return X0+(t-T0)/(T1-T0)*(X1-X0);}
function make(tag,attrs,parent){const e=document.createElementNS(NS,tag);for(const k in attrs)e.setAttribute(k,attrs[k]);(parent||svg).appendChild(e);return e;}

const panels=[
 {top:77,bot:314,vmin:39.4,vmax:248.3},
 {top:372,bot:608,vmin:13.1,vmax:276.8},
 {top:665,bot:903,vmin:-0.28,vmax:12.94},
 {top:960,bot:1197,vmin:1.223,vmax:4.5},
 {top:1254,bot:1490,vmin:-0.505,vmax:11.41}
];
function ys(p,v){return p.bot-(v-p.vmin)/(p.vmax-p.vmin)*(p.bot-p.top);}

const defs=make('defs',{});
panels.forEach((p,i)=>{const cp=make('clipPath',{id:'clip'+i},defs);make('rect',{x:X0,y:p.top,width:X1-X0,height:p.bot-p.top},cp);});

function group(i,name){const g=make('g',{'clip-path':'url(#clip'+i+')'});


return g;}

function series(i,data,color,width,name,opacity){
 const p=panels[i];let d='';let pen=false;
 data.forEach(pt=>{if(pt===null){pen=false;return;}d+=(pen?'L':'M')+xs(pt[0]).toFixed(2)+' '+ys(p,pt[1]).toFixed(2);pen=true;});
 const g=group(i,name+'-group');
 const el=make('path',{d:d,fill:'none',stroke:color,'stroke-width':width,'stroke-linejoin':'round','stroke-linecap':'round','stroke-opacity':opacity||1},g);
 
 
}
function bands(i,list,fill,name){
 const p=panels[i];const g=group(i,name+'-group');
 list.forEach(b=>{const w=Math.max(xs(b[1])-xs(b[0]),0.8);
  const r=make('rect',{x:xs(b[0]),y:p.top-2,width:w,height:p.bot-p.top+4,fill:fill},g);
  
  
 });
}
function axes(i,yticks,ylabels,ylabel,ylx){
 const p=panels[i];
 const ax=make('g',{});
 
 
 const l=make('line',{x1:X0,y1:p.top,x2:X0,y2:p.bot,stroke:'#6f93aa','stroke-width':0.7},ax);
 
 
 const r=make('line',{x1:X1,y1:p.top,x2:X1,y2:p.bot,stroke:'#2a7fc0','stroke-width':0.7},ax);
 
 
 const b=make('line',{x1:X0,y1:p.bot,x2:X1,y2:p.bot,stroke:'#262626','stroke-width':0.7},ax);
 
 
 yticks.forEach((v,k)=>{const y=ys(p,v);
  const t=make('line',{x1:X0,y1:y,x2:X0+6,y2:y,stroke:'#6f93aa','stroke-width':0.7},ax);
  
  
  const tx=make('text',{x:X0-7,y:y+3.2,'font-size':9.2,fill:'#0072bd','text-anchor':'end'},ax);
  tx.textContent=ylabels[k];
  
  
 });
 xTicks.forEach((v,k)=>{const x=xs(v);
  const t=make('line',{x1:x,y1:p.bot,x2:x,y2:p.bot-6,stroke:'#262626','stroke-width':0.6},ax);
  
  
  const tx=make('text',{x:x,y:p.bot+16.5,'font-size':9.2,fill:'#262626','text-anchor':'middle'},ax);
  tx.textContent=xTickLabels[k];
  
  
 });
 const xl=make('text',{x:(X0+X1)/2,y:p.bot+35,'font-size':11.8,fill:'#262626','text-anchor':'middle'},ax);
 xl.textContent='UTC hours on 20241206';
 
 
 const cy=(p.top+p.bot)/2;
 const yl=make('text',{x:ylx,y:cy,'font-size':11.8,fill:'#0072bd','text-anchor':'middle',transform:'rotate(-90 '+ylx+' '+cy+')'},ax);
 yl.textContent=ylabel;
 
 
 return ax;
}
function legend(entries,x0,x1,tx,y0,dy,name){
 const g=make('g',{});
 
 
 entries.forEach((e,k)=>{const y=y0+k*dy;
  if(e.color){const l=make('line',{x1:x0,y1:y,x2:x1,y2:y,stroke:e.color,'stroke-width':e.w},g);
   
   
   if(e.marker){const m=make('text',{x:(x0+x1)/2,y:y+3.5,'font-size':10,'font-weight':'bold',fill:e.color,'text-anchor':'middle'},g);
    m.textContent='✖';
    
    }
  }
  const t=make('text',{x:tx,y:y+3.5,'font-size':9.8,fill:'#000'},g);
  t.textContent=e.label;
  
  
 });
}

// Panel 1
series(0,p1Light,'#add8e6',1.1,'mwr3c-bt23');
series(0,p1Blue,'#0000ff',1.2,'mwr2c-bt23');
series(0,p1Orange,'#ff8c00',2.5,'phy-iter-bt23');
bands(0,p1WetBands,'rgba(210,180,140,0.5)','wet-window-band');
axes(0,p1YTicks,p1YTicks.map(String),'Zenith BT 23 GHz, K',57);
legend([{label:'MWR 2C (tan = wet window)',color:'#0000ff',w:1.3},{label:'MWR 3C',color:'#add8e6',w:1.3},{label:'Phy-Iter',color:'#ff8c00',w:2.5}],507,555,574,102,15.3,'legend-panel-1');

// Panel 2
series(1,p2Light,'#add8e6',1.1,'mwr3c-bt31');
series(1,p2Blue,'#0000ff',1.2,'mwr2c-bt31');
series(1,p2Orange,'#ff8c00',2.5,'phy-iter-bt31');
bands(1,p2RainBands,'rgba(210,180,140,0.5)','rain-flag-band');
axes(1,p2YTicks,p2YTicks.map(String),'Zenith BT 31 GHz, K',57);
legend([{label:'MWR2C',color:'#0000ff',w:1.3},{label:'MWR 3C (tan = rain flag)',color:'#add8e6',w:1.3},{label:'Phy-Iter',color:'#ff8c00',w:2.5}],172,222,239,397,15.3,'legend-panel-2');

// Panel 3
series(2,p3Light,'#add8e6',1.0,'mwr3c-pwv');
series(2,p3Blue,'#0000ff',1.0,'mwr2c-pwv');
series(2,p3Orange,'#ff8c00',2.5,'phy-iter-pwv');
bands(2,p3TanBands,'rgba(210,180,140,0.5)','mwr2c-only-band');
bands(2,p3BrownBands,'rgba(170,50,50,0.48)','mwr3c-only-band');
axes(2,p3YTicks,p3YTicks.map(String),'Precip. Water Vapor, mm',63);
legend([{label:'MWR 2C PWV',color:'#0000ff',w:1.3},{label:'MWR 3C PWV',color:'#add8e6',w:1.3},{label:'Phy-Iter PWV'},{label:'(tan = MWR 2C only)',color:'#ff8c00',w:2.5},{label:'(brown = MWR 3C only)'}],348,408,415,694,15,'legend-panel-3');

// Panel 4
series(3,p4Light,'#add8e6',1.1,'mwr3c-lwp');
series(3,p4Adiabatic,'#800080',1.1,'adiabatic-lwp');
series(3,p4Blue,'#0000ff',1.1,'mwr2c-lwp');
series(3,p4Orange,'#ff8c00',2.4,'phy-iter-lwp');
bands(3,p4CloudBands,'rgba(0,255,255,0.5)','cloud-band');
bands(3,p4GreyBands,'rgba(190,190,190,0.4)','grey-band');
axes(3,p4YTicks,p4YTickLabels,'log10 Liquid Water Path, log10(g/m²)',61);
legend([{label:'MWR 2C LWP',color:'#0000ff',w:1.3},{label:'MWR 3C LWP',color:'#c8d3dc',w:1.5},{label:'Phy-Iter LWP',color:'#ff8c00',w:2.5,marker:true},{label:'Adiabatic LWP',color:'#800080',w:1.3,marker:true}],372,433,440,1133,15,'legend-panel-4');

// Panel 5
(function(){
 const p=panels[4];const g=group(4,'dq-flag-dots');
 const lists=[p5Flag11,p5Flag10,p5Flag9,p5Flag7,p5Flag6,p5Flag4,p5Flag0];
 lists.forEach((lst,k)=>{const lv=p5Levels[k];
  lst.forEach(r=>{for(let t=r[0];t<=r[1]+1e-9;t+=0.0135){
   const c=make('circle',{cx:xs(t),cy:ys(p,lv),r:0.85,fill:'#ff8c00'},g);
   
   
   if(r[1]-r[0]<0.001)break;}});
 });
})();
axes(4,p5YTicks,p5YTicks.map(String),'MWR Phy Iter DQ Flag',63);
</script>
</body></html>
